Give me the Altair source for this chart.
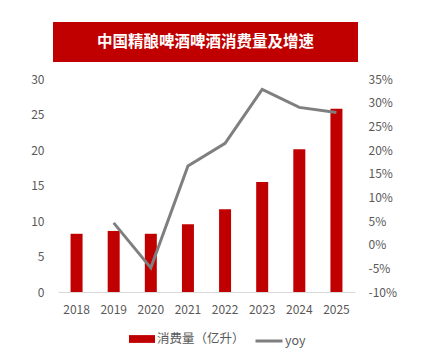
import altair as alt
import pandas as pd

years = ["2018", "2019", "2020", "2021", "2022", "2023", "2024", "2025"]
volume = [8.2, 8.6, 8.2, 9.55, 11.65, 15.5, 20.1, 25.8]
yoy = [None, 0.046, -0.049, 0.166, 0.214, 0.328, 0.290, 0.279]
title_text = "中国精酿啤酒啤酒消费量及增速"
left_ticks = [0, 5, 10, 15, 20, 25, 30]
right_ticks = [-0.10, -0.05, 0, 0.05, 0.10, 0.15, 0.20, 0.25, 0.30, 0.35]
bar_name = "消费量（亿升）"
line_name = "yoy"

FONT = "Noto Sans CJK SC"
RED = "#C00000"
GRAY = "#7F7F7F"
TXT = "#595959"

df = pd.DataFrame({"year": years, "volume": volume, "yoy": yoy})
df["bar_s"] = bar_name
df["line_s"] = line_name

xaxis = alt.Axis(labelAngle=0, ticks=False, grid=False, domainColor="#D9D9D9",
                 labelPadding=12, labelFontSize=12, labelColor=TXT, labelFont=FONT)
xenc = alt.X("year:N", title=None, sort=years,
             scale=alt.Scale(paddingInner=0, paddingOuter=0), axis=xaxis)

bars = alt.Chart(df).mark_bar(size=12, color=RED).encode(
    x=xenc,
    y=alt.Y("volume:Q", title=None, scale=alt.Scale(domain=[0, 30], nice=False),
            axis=alt.Axis(values=left_ticks, domain=False, ticks=False, grid=False,
                          labelPadding=14, labelFontSize=12, labelColor=TXT, labelFont=FONT)),
    color=alt.Color("bar_s:N", scale=alt.Scale(domain=[bar_name], range=[RED]),
                    legend=alt.Legend(title=None, orient="none", legendX=71, legendY=247,
                                      direction="horizontal",
                                      symbolType="M-1,-0.3H1V0.3H-1Z", symbolSize=676,
                                      symbolStrokeWidth=0, symbolOpacity=1,
                                      labelOffset=2, labelFontSize=12.5, labelColor=TXT,
                                      labelFont=FONT)),
)

line = alt.Chart(df).mark_line(strokeWidth=3).encode(
    x=xenc,
    y=alt.Y("yoy:Q", title=None, scale=alt.Scale(domain=[-0.10, 0.35], nice=False, zero=False),
            axis=alt.Axis(orient="right", values=right_ticks, domain=False, ticks=False, grid=False,
                          labelExpr="(datum.value < -0.0001 ? '-' : '') + format(abs(datum.value), '.0%')",
                          labelPadding=13, labelFontSize=12, labelColor=TXT, labelFont=FONT)),
    color=alt.Color("line_s:N", scale=alt.Scale(domain=[line_name], range=[GRAY]),
                    legend=alt.Legend(title=None, orient="none", legendX=196, legendY=247,
                                      direction="horizontal",
                                      symbolType="stroke", symbolSize=729,
                                      symbolStrokeWidth=3,
                                      labelOffset=1, labelFontSize=12.5, labelColor=TXT,
                                      labelFont=FONT)),
)

banner_df = pd.DataFrame({"t": [title_text]})
banner = alt.Chart(banner_df).mark_rect(color=RED).encode(
    x=alt.value(-5), x2=alt.value(300), y=alt.value(-57), y2=alt.value(-17)
)
banner_text = alt.Chart(banner_df).mark_text(
    color="white", font=FONT, fontSize=15.5, fontWeight="bold", align="center", baseline="middle"
).encode(x=alt.value(147.5), y=alt.value(-37), text="t:N")

chart = alt.layer(bars, line, banner, banner_text).resolve_scale(
    y="independent", color="independent"
).properties(
    width=297, height=213,
    background="white",
    autosize=alt.AutoSizeParams(type="none"),
    padding={"left": 50, "top": 71, "right": 60, "bottom": 60},
).configure_view(stroke="transparent", strokeWidth=0).configure_axis(
    grid=False, ticks=False
).configure_axisY(domain=False)

chart.save("out.html", embed_options={"renderer": "svg", "actions": False})
